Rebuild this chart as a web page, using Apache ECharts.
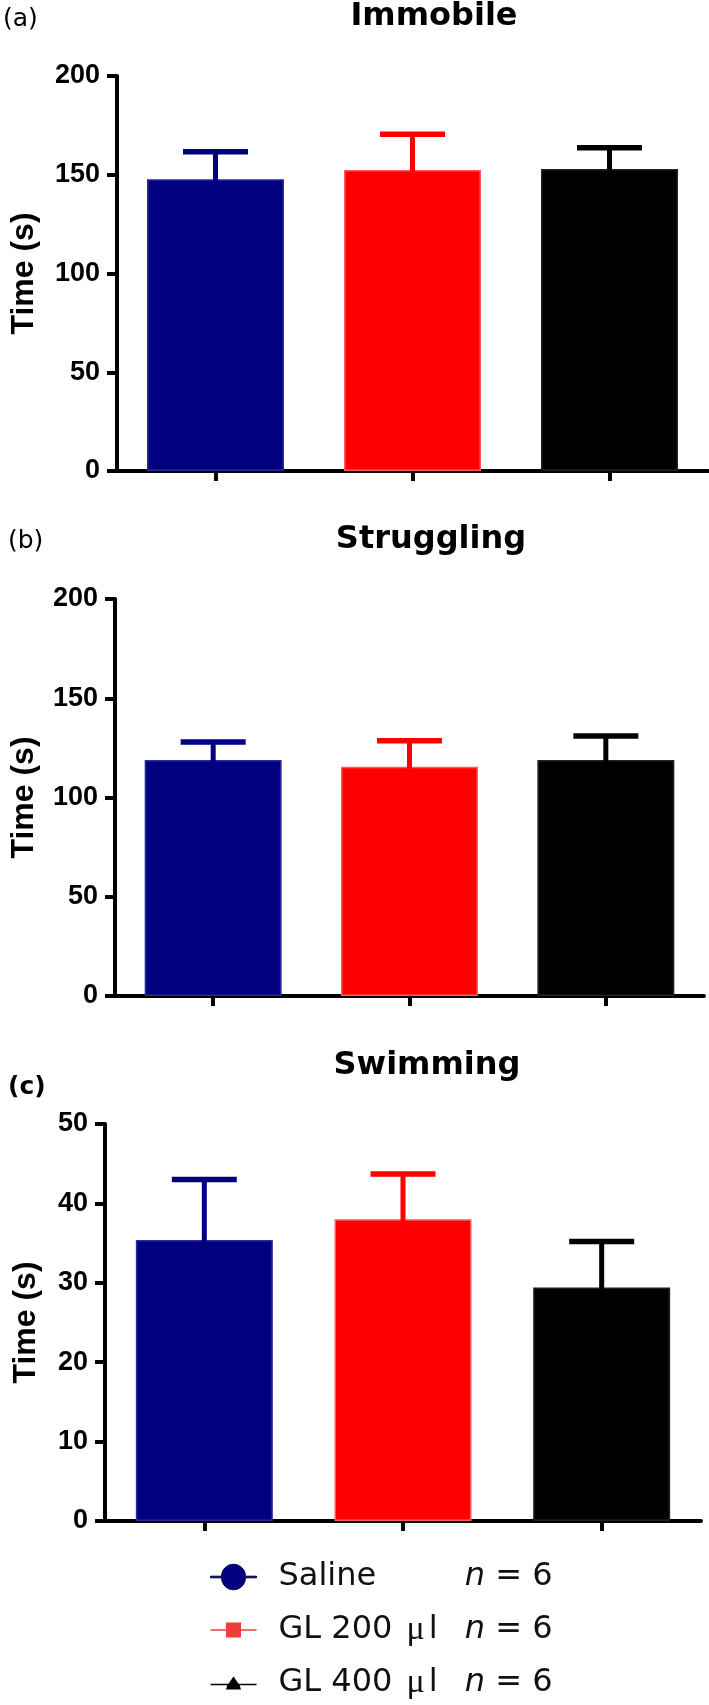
<!DOCTYPE html>
<html>
<head>
<meta charset="utf-8">
<script src="https://cdn.jsdelivr.net/npm/echarts@6/dist/echarts.min.js"></script>
<style>
html,body{margin:0;padding:0;background:#fff;}
#chart{width:709px;height:1705px;}
</style>
</head>
<body>
<div id="chart"></div>
<script>
// ---- data ----
const groups = ['Saline', 'GL 200 μl', 'GL 400 μl'];
const groupN = [6, 6, 6];
const panelTitles = ['Immobile', 'Struggling', 'Swimming'];
const panelLetters = ['(a)', '(b)', '(c)'];
const immobileMean = [147.7, 152.4, 152.9];
const immobileSem = [14.0, 18.1, 10.8];
const strugglingMean = [118.9, 115.5, 118.9];
const strugglingSem = [9.1, 13.1, 12.1];
const swimmingMean = [35.4, 38.0, 29.4];
const swimmingSem = [7.6, 5.7, 5.8];
const yTicksAB = [0, 50, 100, 150, 200];
const yTicksC = [0, 10, 20, 30, 40, 50];

// ---- styles ----
const barColors = ['#000080', '#ff0000', '#000000'];
const barBorders = ['#2a2aa0', '#ff5a5a', '#222222'];
const legendIconColors = ['#000080', '#f03c3c', '#000000'];
const grids = [
  {left: 110, top: 76, width: 598, height: 395},
  {left: 108, top: 599, width: 596, height: 397},
  {left: 105, top: 1124, width: 596, height: 397}
];
const nameGaps = [77, 75, 63];
const titleX = [434, 431, 427];
const titleTop = [1, 524, 1050];
const letterTop = [7, 529, 1075];
const panels = [
  {mean: immobileMean, sem: immobileSem, ticks: yTicksAB},
  {mean: strugglingMean, sem: strugglingSem, ticks: yTicksAB},
  {mean: swimmingMean, sem: swimmingSem, ticks: yTicksC}
];

function errRender(params, api) {
  const x = api.value(0), lo = api.value(1), hi = api.value(2);
  const p0 = api.coord([x, lo]);
  const p1 = api.coord([x, hi]);
  const c = barColors[params.dataIndex];
  return {
    type: 'group',
    children: [
      {type: 'line', shape: {x1: p0[0], y1: p0[1] + 2, x2: p1[0], y2: p1[1]}, style: {stroke: c, lineWidth: 5}},
      {type: 'line', shape: {x1: p1[0] - 32.5, y1: p1[1], x2: p1[0] + 32.5, y2: p1[1]}, style: {stroke: c, lineWidth: 5.5}}
    ]
  };
}

const option = {
  animation: false,
  backgroundColor: '#ffffff',
  title: [],
  grid: [],
  xAxis: [],
  yAxis: [],
  series: [],
  legend: {
    orient: 'vertical',
    left: 210,
    top: 1559,
    padding: 0,
    itemWidth: 46,
    itemHeight: 36,
    itemGap: 17,
    symbolKeepAspect: true,
    selectedMode: false,
    data: [
      {name: groups[0], icon: 'path://M0,-0.8 L11,-0.8 A12,12 0 0 1 35,-0.8 L46,-0.8 L46,0.8 L35,0.8 A12,12 0 0 1 11,0.8 L0,0.8 Z', itemStyle: {color: legendIconColors[0], borderColor: '#00003a', borderWidth: 1}},
      {name: groups[1], icon: 'path://M0,-0.8 L15.5,-0.8 L15.5,-7.5 L30.5,-7.5 L30.5,-0.8 L46,-0.8 L46,0.8 L30.5,0.8 L30.5,7.5 L15.5,7.5 L15.5,0.8 L0,0.8 Z', itemStyle: {color: legendIconColors[1], borderWidth: 0}},
      {name: groups[2], icon: 'path://M0,-0.8 L18,-0.8 L23,-8 L28,-0.8 L46,-0.8 L46,0.8 L29.2,0.8 L30.5,5 L15.5,5 L16.8,0.8 L0,0.8 Z', itemStyle: {color: legendIconColors[2], borderWidth: 0}}
    ],
    formatter: function (name) {
      const i = groups.indexOf(name);
      let head;
      if (name.indexOf('μ') >= 0) {
        const parts = name.split('μ');
        head = '{t|' + parts[0] + '}{mu|μ}{t|' + parts[1] + '}';
      } else {
        head = '{t|' + name + '}';
      }
      return head + '{ni|n}{e| = ' + groupN[i] + '}';
    },
    textStyle: {
      width: 274,
      padding: [0, 0, 0, 17],
      color: '#111',
      fontFamily: 'DejaVu Sans',
      fontSize: 32,
      lineHeight: 36,
      rich: {
        t: {fontFamily: 'DejaVu Sans', fontSize: 32, color: '#111', lineHeight: 36},
        mu: {fontFamily: 'Liberation Serif', fontSize: 34, color: '#111', lineHeight: 36, padding: [0, 4, 0, 4]},
        ni: {fontFamily: 'DejaVu Sans', fontStyle: 'italic', fontSize: 32, color: '#111', align: 'right', lineHeight: 36},
        e: {fontFamily: 'DejaVu Sans', fontSize: 32, color: '#111', align: 'right', lineHeight: 36}
      }
    }
  }
};

panels.forEach(function (p, k) {
  option.title.push({
    text: panelTitles[k], left: titleX[k], top: titleTop[k], textAlign: 'center', padding: 0,
    textStyle: {fontFamily: 'DejaVu Sans', fontWeight: 'bold', fontSize: 32, color: '#000'}
  });
  option.title.push({
    text: panelLetters[k], left: k === 0 ? 3 : 8, top: letterTop[k], padding: 0,
    textStyle: {fontFamily: 'DejaVu Sans', fontWeight: k === 2 ? 'bold' : 'normal', fontSize: 25, color: '#000'}
  });
  option.grid.push(Object.assign({containLabel: false}, grids[k]));
  option.xAxis.push({
    type: 'category', gridIndex: k, data: groups,
    axisLine: {lineStyle: {color: '#000', width: 4}},
    axisTick: {show: true, alignWithLabel: true, length: 10, lineStyle: {color: '#000', width: 4}},
    axisLabel: {show: false},
    splitLine: {show: false}
  });
  const tmax = p.ticks[p.ticks.length - 1];
  option.yAxis.push({
    type: 'value', gridIndex: k, min: p.ticks[0], max: tmax, interval: p.ticks[1] - p.ticks[0],
    name: 'Time (s)', nameLocation: 'middle', nameRotate: 90, nameGap: nameGaps[k],
    nameTextStyle: {fontFamily: 'Liberation Sans', fontWeight: 'bold', fontSize: 32, color: '#000'},
    axisLine: {show: true, lineStyle: {color: '#000', width: 4}},
    axisTick: {show: true, length: 10, lineStyle: {color: '#000', width: 4}},
    axisLabel: {fontFamily: 'Liberation Sans', fontWeight: 'bold', fontSize: 27, color: '#000', margin: 17},
    splitLine: {show: false}
  });
  groups.forEach(function (g, i) {
    const d = groups.map(function (_, j) { return j === i ? p.mean[j] : null; });
    option.series.push({
      type: 'bar', name: g, xAxisIndex: k, yAxisIndex: k, data: d,
      barWidth: 137, barGap: '-100%',
      itemStyle: {color: barColors[i], borderColor: barBorders[i], borderWidth: 1.5},
      z: 2
    });
  });
  option.series.push({
    type: 'custom', name: 'err' + k, xAxisIndex: k, yAxisIndex: k,
    renderItem: errRender,
    encode: {x: 0, y: [1, 2]},
    data: p.mean.map(function (m, i) { return [i, m, m + p.sem[i]]; }),
    z: 3
  });
});

const chart = echarts.init(document.getElementById('chart'), null, {renderer: 'canvas'});
chart.setOption(option);
</script>
</body>
</html>
